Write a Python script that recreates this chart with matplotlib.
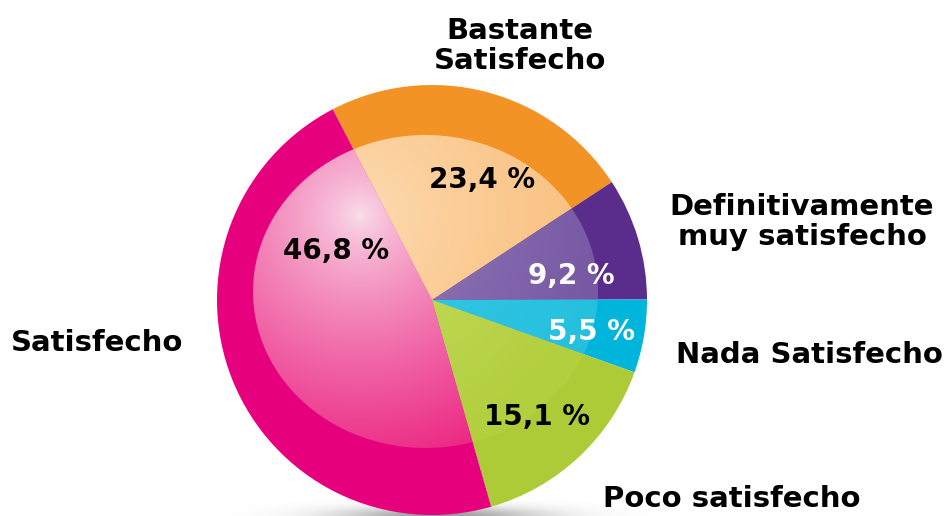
import matplotlib
matplotlib.use('Agg')
import matplotlib.pyplot as plt
import numpy as np
from matplotlib.path import Path
from matplotlib.patches import PathPatch
from matplotlib.colors import to_rgb

# datos
categorias = ['Bastante\nSatisfecho', 'Definitivamente\nmuy satisfecho',
              'Nada Satisfecho', 'Poco satisfecho', 'Satisfecho']
valores = [23.4, 9.2, 5.5, 15.1, 46.8]

# estilo
borde = ['#F39325', '#5A2D8C', '#00B5DB', '#ADCB37', '#E6007E']
luz_alta = ['#FEDDB6', '#9A84C0', '#3ECBE6', '#CBE06A', '#FAE0EC']
luz_baja = ['#F9BF7C', '#7758A3', '#26C0DF', '#B2CF3E', '#EC2A85']
color_pct = ['black', 'white', 'white', 'black', 'black']
pos_pct = [(482, 180), (571, 276), (592, 332), (537, 417), (336, 251)]
pos_cat = [(520, 46), (802, 222), (809, 355), (732, 499), (97, 343)]

W, H = 948, 516
centro = (432, H - 300)
radio = 215
# elipse interior (zona clara)
ex, ey, ea, eb = 425.5, H - 291.5, 172.5, 156.5
foco = (360, H - 215)

plt.rcParams['font.family'] = ['DejaVu Sans']

fig = plt.figure(figsize=(W / 100, H / 100), dpi=100)
ax = fig.add_axes([0, 0, 1, 1])

# sombra
xx, yy = np.meshgrid(np.arange(W) + 0.5, np.arange(H) + 0.5)
sombra = np.zeros((H, W, 4))
sombra[..., :3] = 0.35
sombra[..., 3] = 0.6 * np.exp(-((xx - 440) / 100) ** 2 - ((yy - 0) / 9) ** 2)
ax.imshow(sombra, extent=(0, W, 0, H), origin='lower', zorder=0)

wedges, _ = ax.pie(valores, startangle=117.5, counterclock=False,
                   colors=borde, center=centro, radius=radio,
                   wedgeprops=dict(linewidth=0), frame=True)
for w in wedges:
    w.set_zorder(1)


def borde_elipse(th):
    c, s = np.cos(th), np.sin(th)
    dx, dy = centro[0] - ex, centro[1] - ey
    A = c ** 2 / ea ** 2 + s ** 2 / eb ** 2
    B = 2 * (dx * c / ea ** 2 + dy * s / eb ** 2)
    C = dx ** 2 / ea ** 2 + dy ** 2 / eb ** 2 - 1
    r = (-B + np.sqrt(B ** 2 - 4 * A * C)) / (2 * A)
    return centro[0] + r * c, centro[1] + r * s


d = np.hypot(xx - foco[0], yy - foco[1])
t = np.clip(d / 250, 0, 1) ** 0.75

for i, w in enumerate(wedges):
    th = np.radians(np.linspace(w.theta1, w.theta2, 200))
    px, py = borde_elipse(th)
    verts = [centro] + list(zip(px, py)) + [centro]
    codes = [Path.MOVETO] + [Path.LINETO] * (len(verts) - 2) + [Path.CLOSEPOLY]
    patch = PathPatch(Path(verts, codes), facecolor='none', edgecolor='none')
    ax.add_patch(patch)
    hi = np.array(to_rgb(luz_alta[i]))
    lo = np.array(to_rgb(luz_baja[i]))
    img = hi * (1 - t[..., None]) + lo * t[..., None]
    im = ax.imshow(img, extent=(0, W, 0, H), origin='lower', zorder=2)
    im.set_clip_path(patch)

for i, v in enumerate(valores):
    etiqueta = f'{v:.1f} %'.replace('.', ',')
    ax.text(pos_pct[i][0], H - pos_pct[i][1], etiqueta, ha='center', va='center',
            fontsize=20, fontweight='bold', color=color_pct[i], zorder=5)

for i, cat in enumerate(categorias):
    ax.text(pos_cat[i][0], H - pos_cat[i][1], cat, ha='center', va='center',
            fontsize=21, fontweight='bold', color='black', linespacing=1.12,
            zorder=5)

ax.set_xlim(0, W)
ax.set_ylim(0, H)
ax.set_aspect('equal')
ax.axis('off')

fig.savefig('out.png', dpi=100)
